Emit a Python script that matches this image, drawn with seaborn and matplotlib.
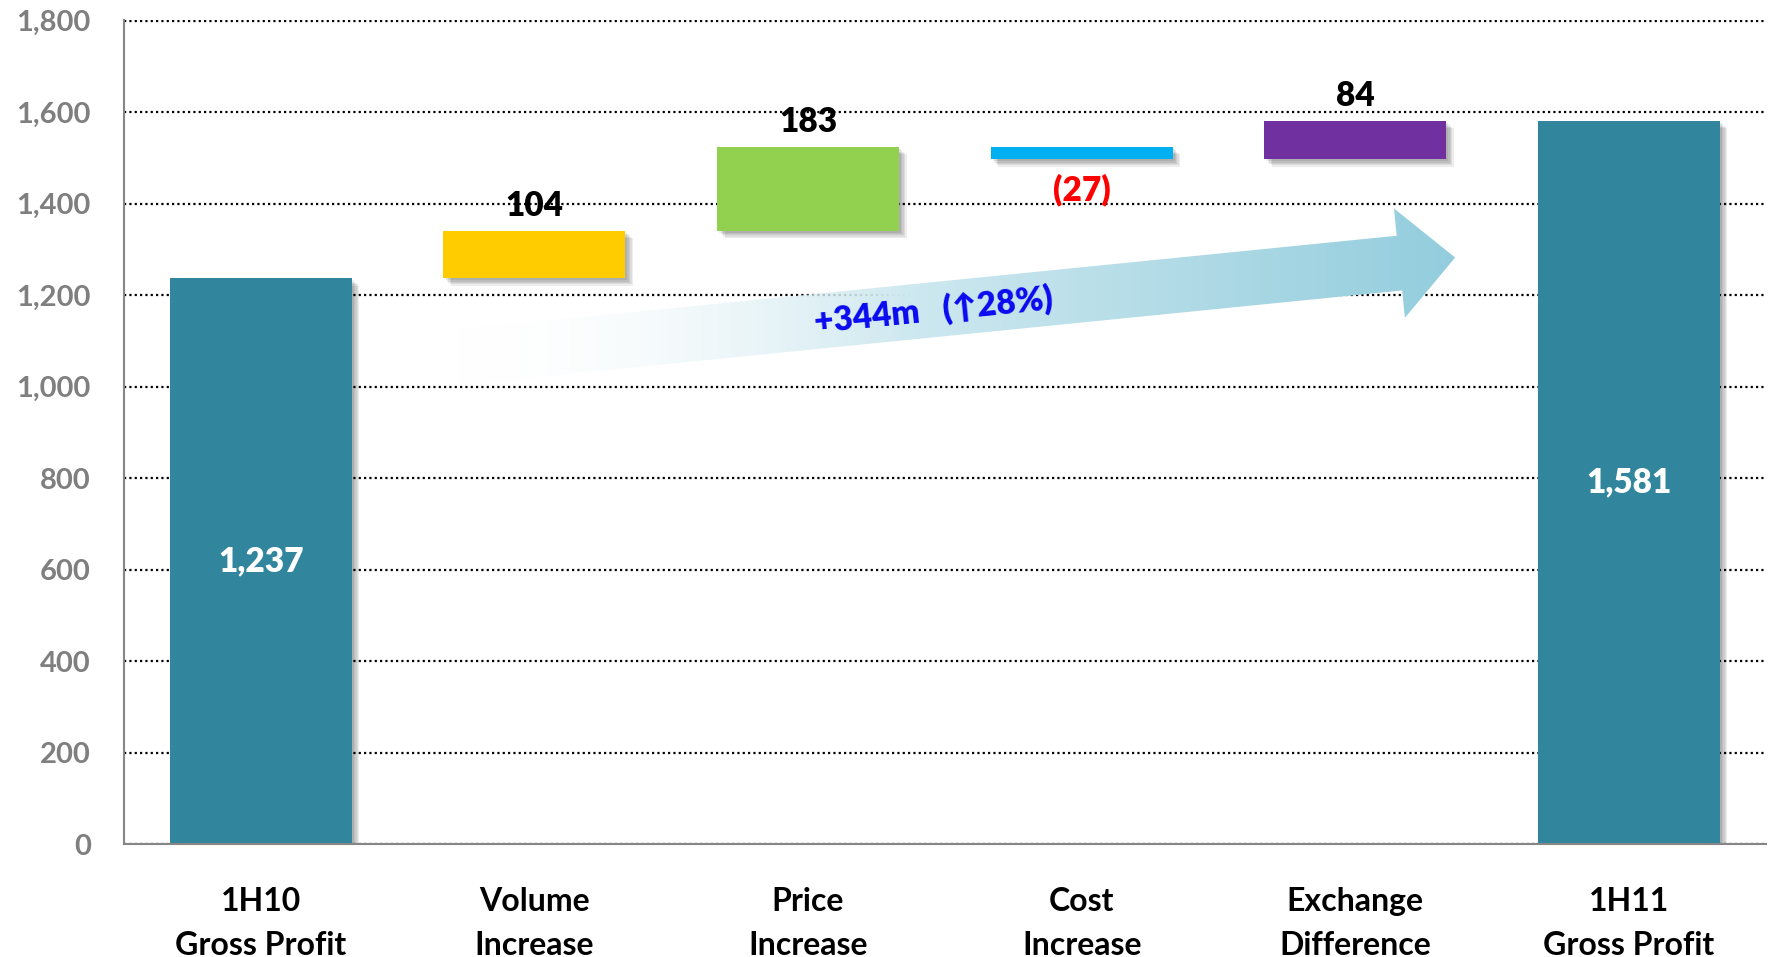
import numpy as np
import pandas as pd
import matplotlib
matplotlib.use("Agg")
import matplotlib.pyplot as plt
import seaborn as sns
from matplotlib import patheffects as pe
from matplotlib.patches import Polygon
from matplotlib.ticker import FuncFormatter, FixedLocator

# ---------------- data ----------------
categories = ["1H10\nGross Profit", "Volume\nIncrease", "Price\nIncrease",
              "Cost\nIncrease", "Exchange\nDifference", "1H11\nGross Profit"]
changes = [1237, 104, 183, -27, 84, 1581]
kinds = ["total", "delta", "delta", "delta", "delta", "total"]
value_labels = ["1,237", "104", "183", "(27)", "84", "1,581"]
bar_colors = ["#31859C", "#FFCC00", "#92D050", "#00B0F0", "#7030A0", "#31859C"]
y_ticks = [0, 200, 400, 600, 800, 1000, 1200, 1400, 1600, 1800]
arrow_text = "+344m   (\u219128%)"
arrow_start = (0.72, 1064)   # (category position, value)
arrow_end = (4.365, 1282)

# ---------------- waterfall geometry ----------------
bottoms, heights = [], []
running = 0
for v, k in zip(changes, kinds):
    if k == "total":
        bottoms.append(0)
        heights.append(v)
        running = v
    else:
        bottoms.append(running if v >= 0 else running + v)
        heights.append(abs(v))
        running += v

df = pd.DataFrame({"category": categories, "height": heights})

sns.set_theme(style="white")
FONT = ["Lato", "DejaVu Sans"]
plt.rcParams["font.family"] = FONT
plt.rcParams["font.weight"] = "bold"

fig = plt.figure(figsize=(17.71, 9.57), dpi=100)
ax = fig.add_axes([0.070, 0.118, 0.927, 0.861])

sns.barplot(data=df, x="category", y="height", hue="category",
            order=categories, hue_order=categories, palette=bar_colors,
            saturation=1, width=0.665, legend=False, linewidth=0, ax=ax)

shadow = [pe.SimplePatchShadow(offset=(o, -o), shadow_rgbFace="black", alpha=0.07)
          for o in (1.5, 2.5, 3.5, 4.5, 5.5)] + [pe.Normal()]
for patch in ax.patches:
    i = int(round(patch.get_x() + patch.get_width() / 2))
    patch.set_y(bottoms[i])
    patch.set_height(heights[i])
    patch.set_path_effects(shadow)
    patch.set_zorder(3)

ax.set_xlim(-0.5, 5.5)
ax.set_ylim(0, 1801)
ax.set_xlabel("")
ax.set_ylabel("")

# grid / spines
ax.yaxis.set_major_locator(FixedLocator(y_ticks))
ax.yaxis.set_major_formatter(FuncFormatter(lambda v, p: f"{int(v):,}"))
ax.grid(axis="y", color="black", linestyle=(0, (1, 1.4)), linewidth=1.6)
ax.grid(axis="x", visible=False)
ax.set_axisbelow(True)
for s in ("top", "right"):
    ax.spines[s].set_visible(False)
for s in ("left", "bottom"):
    ax.spines[s].set_color("#868686")
    ax.spines[s].set_linewidth(1.5)
    ax.spines[s].set_zorder(4)

ax.tick_params(axis="y", length=0, pad=24, labelsize=21, labelcolor="#7F7F7F")
ax.tick_params(axis="x", length=0, pad=31, labelsize=23, labelcolor="black")
ax.set_xticks(range(len(categories)))
ax.set_xticklabels(categories, fontweight="bold", linespacing=1.6)

# value labels
for i, (v, k, lab) in enumerate(zip(changes, kinds, value_labels)):
    if k == "total":
        ax.text(i, bottoms[i] + heights[i] / 2, lab, ha="center", va="center",
                color="white", fontsize=24, fontweight="heavy", zorder=5)
    elif v >= 0:
        ax.annotate(lab, (i, bottoms[i] + heights[i]), xytext=(0, 18),
                    textcoords="offset points", ha="center", va="center",
                    color="black", fontsize=24, fontweight="heavy", zorder=5)
    else:
        ax.annotate(lab, (i, bottoms[i]), xytext=(0, -22),
                    textcoords="offset points", ha="center", va="center",
                    color="#FF0000", fontsize=24, fontweight="heavy", zorder=5)

# ---------------- gradient arrow ----------------
p0 = ax.transData.transform(arrow_start)
p1 = ax.transData.transform(arrow_end)
d = p1 - p0
L = np.hypot(*d)
u = d / L
n = np.array([-u[1], u[0]])
shaft_hw, head_hw, head_len = 27.5, 55.0, 56.0
base = p1 - u * head_len
pts_disp = np.array([
    p0 + n * shaft_hw,
    base + n * shaft_hw,
    base + n * head_hw,
    p1,
    base - n * head_hw,
    base - n * shaft_hw,
    p0 - n * shaft_hw,
])
pts_data = ax.transData.inverted().transform(pts_disp)
arrow_poly = Polygon(pts_data, closed=True, facecolor="none", edgecolor="none",
                     transform=ax.transData)
ax.add_patch(arrow_poly)

xmin, xmax = pts_data[:, 0].min(), pts_data[:, 0].max()
ymin, ymax = pts_data[:, 1].min(), pts_data[:, 1].max()
t = np.linspace(0, 1, 512)
blue = np.array([147, 205, 221]) / 255.0
img = np.zeros((2, t.size, 4))
img[..., :3] = (1 - t)[:, None] * 1.0 + t[:, None] * blue
img[..., 3] = np.clip(t * 2.2, 0, 1)
im = ax.imshow(img, extent=(xmin, xmax, ymin, ymax), aspect="auto",
               origin="lower", interpolation="bilinear", zorder=2)
im.set_clip_path(arrow_poly)
ax.set_xlim(-0.5, 5.5)
ax.set_ylim(0, 1801)

angle = np.degrees(np.arctan2(d[1], d[0]))
mid_disp = p0 + (base - p0) * 0.505
mid_data = ax.transData.inverted().transform(mid_disp)
ax.text(mid_data[0], mid_data[1], arrow_text, rotation=angle, rotation_mode="anchor",
        ha="center", va="center", color="#0A0AF0", fontsize=24, fontweight="heavy",
        family=FONT, zorder=6)

fig.savefig("out.png", dpi=100)
